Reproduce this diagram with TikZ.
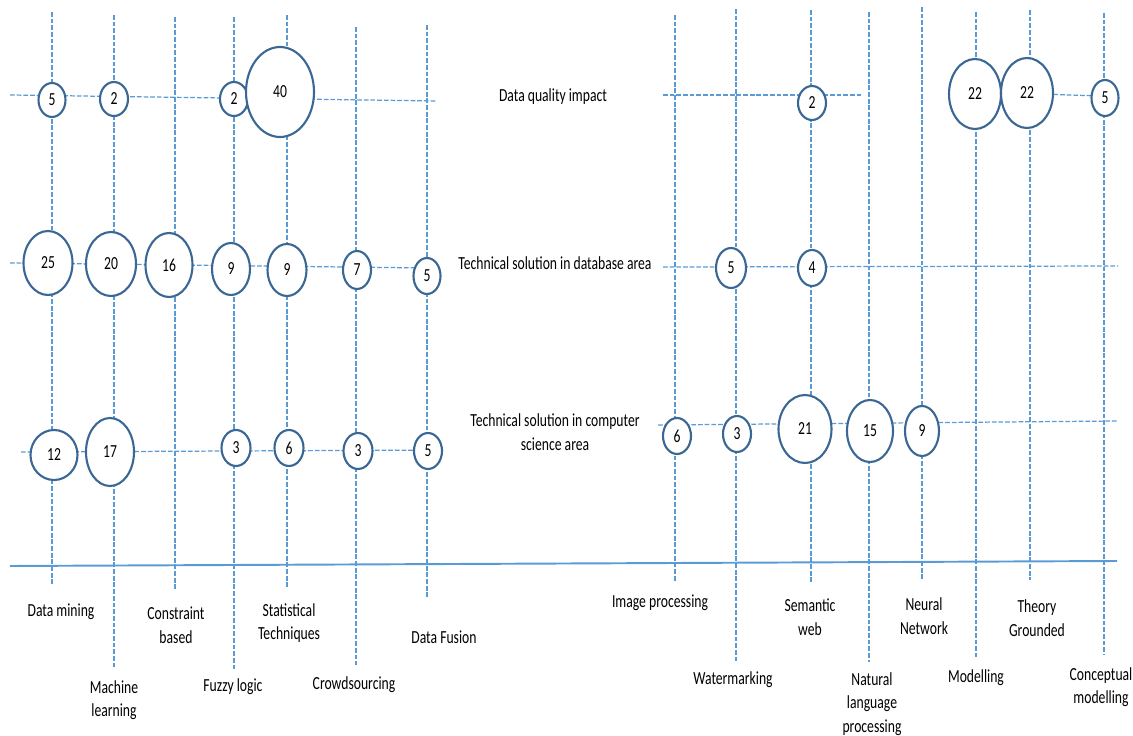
\documentclass[tikz,border=0pt]{standalone}
\usepackage{fontspec}
\setmainfont{Carlito}[FakeStretch=0.74]
\usepackage{tikz}
\usetikzlibrary{shapes.geometric}
\definecolor{gridblue}{RGB}{91,155,213}
\definecolor{ringblue}{RGB}{58,103,148}

\begin{document}
\begin{tikzpicture}[x=0.02cm, y=-0.02cm,
  every node/.style={font=\fontsize{10.5}{13.4}\selectfont, inner sep=0pt, outer sep=0pt},
  gridline/.style={gridblue, line width=0.7pt, dash pattern=on 2.7pt off 1.1pt},
  axisline/.style={gridblue, line width=1.1pt},
  bubble/.style={ellipse, draw=ringblue, fill=white, line width=1.2pt},
  wh/.style 2 args={minimum width=#1*0.02cm, minimum height=#2*0.02cm},
  lbl/.style={align=center}]
\useasboundingbox (0,0) rectangle (1133,736);

\coordinate (dmtop) at (52,12);   \coordinate (dmbot) at (52,584);
\coordinate (mltop) at (114,15);  \coordinate (mlbot) at (114,668);
\coordinate (cbtop) at (175,17);  \coordinate (cbbot) at (175,590);
\coordinate (fltop) at (234,17);  \coordinate (flbot) at (234,669);
\coordinate (sttop) at (287,15);  \coordinate (stbot) at (287,587);
\coordinate (cstop) at (356,27);  \coordinate (csbot) at (356,665);
\coordinate (dftop) at (427,25);  \coordinate (dfbot) at (427,597);
\coordinate (iptop) at (675,15);  \coordinate (ipbot) at (675,582);
\coordinate (wmtop) at (736,9);   \coordinate (wmbot) at (736,662);
\coordinate (swtop) at (811,10);  \coordinate (swbot) at (811,582);
\coordinate (nltop) at (869,12);  \coordinate (nlbot) at (869,662);
\coordinate (nntop) at (922,7);   \coordinate (nnbot) at (922,580);
\coordinate (motop) at (976,12);  \coordinate (mobot) at (976,657);
\coordinate (tgtop) at (1030,10); \coordinate (tgbot) at (1030,580);
\coordinate (cmtop) at (1104,13); \coordinate (cmbot) at (1104,655);

\coordinate (qa) at (10,95);   \coordinate (qb) at (437,101);
\coordinate (qc) at (663,95);  \coordinate (qd) at (861,95);
\coordinate (qe) at (1040,94); \coordinate (qf) at (1100,96);
\coordinate (da) at (10,263);  \coordinate (db) at (427,268);
\coordinate (dc) at (663,267); \coordinate (dd) at (1118,266);
\coordinate (ca) at (21,452);  \coordinate (cb) at (443,450);
\coordinate (cc) at (658,425); \coordinate (cd) at (1117,421);
\coordinate (axl) at (10,566); \coordinate (axr) at (1117,561);

\draw[gridline] (dmtop) -- (dmbot);
\draw[gridline] (mltop) -- (mlbot);
\draw[gridline] (cbtop) -- (cbbot);
\draw[gridline] (fltop) -- (flbot);
\draw[gridline] (sttop) -- (stbot);
\draw[gridline] (cstop) -- (csbot);
\draw[gridline] (dftop) -- (dfbot);
\draw[gridline] (iptop) -- (ipbot);
\draw[gridline] (wmtop) -- (wmbot);
\draw[gridline] (swtop) -- (swbot);
\draw[gridline] (nltop) -- (nlbot);
\draw[gridline] (nntop) -- (nnbot);
\draw[gridline] (motop) -- (mobot);
\draw[gridline] (tgtop) -- (tgbot);
\draw[gridline] (cmtop) -- (cmbot);

\draw[gridline] (qa) -- (qb);
\draw[gridline] (qc) -- (qd);
\draw[gridline] (qe) -- (qf);
\draw[gridline] (da) -- (db);
\draw[gridline] (dc) -- (dd);
\draw[gridline] (ca) -- (cb);
\draw[gridline] (cc) -- (cd);
\draw[axisline] (axl) -- (axr);

\node[bubble, wh={27}{34}] (qdm) at (52,100) {5};
\node[bubble, wh={28}{34}] (qml) at (114,99) {2};
\node[bubble, wh={28}{34}] (qfl) at (234,99) {2};
\node[bubble, wh={68}{90}] (qst) at (280,92) {40};
\node[bubble, wh={28}{34}] (qsw) at (812,103) {2};
\node[bubble, wh={52}{70}] (qmo) at (975,94) {22};
\node[bubble, wh={52}{70}] (qtg) at (1027,93) {22};
\node[bubble, wh={27}{36}] (qcm) at (1105,98) {5};

\node[bubble, wh={49}{64}] (ddm) at (48,263) {25};
\node[bubble, wh={50}{64}] (dml) at (111,264) {20};
\node[bubble, wh={47}{64}] (dcb) at (169,265) {16};
\node[bubble, wh={38}{52}] (dfl) at (231,269) {9};
\node[bubble, wh={39}{52}] (dst) at (287,270) {9};
\node[bubble, wh={28}{38}] (dcs) at (357,270) {7};
\node[bubble, wh={27}{36}] (ddf) at (427,276) {5};
\node[bubble, wh={30}{40}] (dwm) at (731,268) {5};
\node[bubble, wh={28}{36}] (dsw) at (812,268) {4};

\node[bubble, wh={47}{50}] (cdm) at (54,455) {12};
\node[bubble, wh={48}{68}] (cml) at (110,452) {17};
\node[bubble, wh={29}{36}] (cfl) at (236,448) {3};
\node[bubble, wh={29}{36}] (cst) at (289,448) {6};
\node[bubble, wh={29}{36}] (ccs) at (358,451) {3};
\node[bubble, wh={28}{36}] (cdf) at (428,451) {5};
\node[bubble, wh={28}{36}] (cip) at (677,436) {6};
\node[bubble, wh={28}{36}] (cwm) at (737,434) {3};
\node[bubble, wh={53}{68}] (csw) at (805,429) {21};
\node[bubble, wh={46}{62}] (cnl) at (870,431) {15};
\node[bubble, wh={34}{50}] (cnn) at (922,431) {9};

\node[lbl] (rowq) at (553,97) {Data quality impact};
\node[lbl] (rowd) at (555,263) {Technical solution in database area};
\node[lbl] (rowc) at (555,432) {Technical solution in computer\\science area};

\node[lbl] (ldm) at (61,612) {Data mining};
\node[lbl] (lml) at (114,700) {Machine\\learning};
\node[lbl] (lcb) at (176,625) {Constraint\\based};
\node[lbl] (lfl) at (233,687) {Fuzzy logic};
\node[lbl] (lst) at (289,623) {Statistical\\Techniques};
\node[lbl] (lcs) at (354,685) {Crowdsourcing};
\node[lbl] (ldf) at (444,637) {Data Fusion};
\node[lbl] (lip) at (660,603) {Image processing};
\node[lbl] (lwm) at (733,680) {Watermarking};
\node[lbl] (lsw) at (810,617) {Semantic\\web};
\node[lbl] (lnl) at (872,704) {Natural\\language\\processing};
\node[lbl] (lnn) at (924,616) {Neural\\Network};
\node[lbl] (lmo) at (976,678) {Modelling};
\node[lbl] (ltg) at (1037,618) {Theory\\Grounded};
\node[lbl] (lcm) at (1101,687) {Conceptual\\modelling};
\end{tikzpicture}
\end{document}
